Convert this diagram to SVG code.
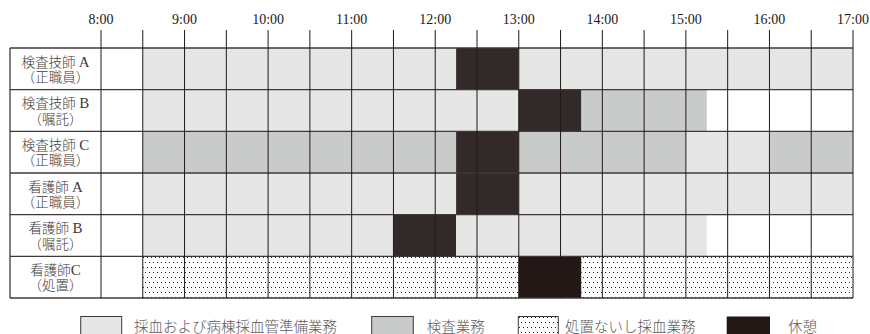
<svg xmlns="http://www.w3.org/2000/svg" width="870" height="334" viewBox="0 0 870 334">
<style>
.lt{fill:#e6e6e6}
.md{fill:#c9caca}
.bk{fill:#322a28}
.bk2{fill:#231815}
.dt{fill:url(#dots)}
.tm{font-family:"Liberation Serif","Noto Sans CJK JP",serif;font-size:14px;fill:#231815;text-anchor:middle}
.lb{font-family:"Liberation Serif","Noto Sans CJK JP",serif;font-size:13.5px;font-weight:300;fill:#3e3a39;text-anchor:middle}
.lb tspan{font-size:15px;font-weight:400}
.lg{font-family:"Liberation Serif","Noto Sans CJK JP",serif;font-size:14.5px;font-weight:300;fill:#595757}
.vl{stroke:#231815;stroke-width:1}
.hl{stroke:#3e3a39;stroke-width:1.3}
.box{stroke:#3e3a39;stroke-width:1}
</style>
<defs>
<pattern id="dots" patternUnits="userSpaceOnUse" width="8" height="10">
<rect width="8" height="10" fill="#ffffff"/>
<rect x="1" y="2" width="1" height="1" fill="#222"/>
<rect x="5" y="2" width="1" height="1" fill="#222"/>
<rect x="3" y="7" width="1" height="1" fill="#222"/>
<rect x="7" y="7" width="1" height="1" fill="#222"/>
</pattern>
</defs>
<rect width="870" height="334" fill="#ffffff"/>

<g id="times">
<text class="tm" x="101" y="24">8:00</text>
<text class="tm" x="184.56" y="24">9:00</text>
<text class="tm" x="268.11" y="24">10:00</text>
<text class="tm" x="351.67" y="24">11:00</text>
<text class="tm" x="435.22" y="24">12:00</text>
<text class="tm" x="518.78" y="24">13:00</text>
<text class="tm" x="602.33" y="24">14:00</text>
<text class="tm" x="685.89" y="24">15:00</text>
<text class="tm" x="769.44" y="24">16:00</text>
<text class="tm" x="853" y="24">17:00</text>
</g>

<g id="row1">
<rect class="lt" x="142.78" y="48" width="313.33" height="41.7"/>
<rect class="bk" x="456.11" y="48" width="62.67" height="41.7"/>
<rect class="lt" x="518.78" y="48" width="334.22" height="41.7"/>
<text class="lb" x="55.5" y="66.5">検査技師 <tspan>A</tspan></text>
<text class="lb" x="55.5" y="82">（正職員）</text>
</g>

<g id="row2">
<rect class="lt" x="142.78" y="89.7" width="376" height="41.6"/>
<rect class="bk" x="518.78" y="89.7" width="62.66" height="41.6"/>
<rect class="md" x="581.44" y="89.7" width="125.34" height="41.6"/>
<text class="lb" x="55.5" y="108.2">検査技師 <tspan>B</tspan></text>
<text class="lb" x="55.5" y="123.7">（嘱託）</text>
</g>

<g id="row3">
<rect class="md" x="142.78" y="131.3" width="313.33" height="41.7"/>
<rect class="bk" x="456.11" y="131.3" width="62.67" height="41.7"/>
<rect class="md" x="518.78" y="131.3" width="167.11" height="41.7"/>
<rect class="lt" x="685.89" y="131.3" width="83.55" height="41.7"/>
<rect class="md" x="769.44" y="131.3" width="83.56" height="41.7"/>
<text class="lb" x="55.5" y="149.8">検査技師 <tspan>C</tspan></text>
<text class="lb" x="55.5" y="165.3">（正職員）</text>
</g>

<g id="row4">
<rect class="lt" x="142.78" y="173" width="313.33" height="41.7"/>
<rect class="bk" x="456.11" y="173" width="62.67" height="41.7"/>
<rect class="lt" x="518.78" y="173" width="334.22" height="41.7"/>
<text class="lb" x="55.5" y="191.5">看護師 <tspan>A</tspan></text>
<text class="lb" x="55.5" y="207">（正職員）</text>
</g>

<g id="row5">
<rect class="lt" x="142.78" y="214.7" width="250.66" height="41.6"/>
<rect class="bk" x="393.44" y="214.7" width="62.67" height="41.6"/>
<rect class="lt" x="456.11" y="214.7" width="250.67" height="41.6"/>
<text class="lb" x="55.5" y="233.2">看護師 <tspan>B</tspan></text>
<text class="lb" x="55.5" y="248.7">（嘱託）</text>
</g>

<g id="row6">
<rect class="dt" x="142.78" y="256.3" width="376" height="41.7"/>
<rect class="bk2" x="518.78" y="256.3" width="62.66" height="41.7"/>
<rect class="dt" x="581.44" y="256.3" width="271.56" height="41.7"/>
<text class="lb" x="55.5" y="274.8">看護師<tspan>C</tspan></text>
<text class="lb" x="55.5" y="290.3">（処置）</text>
</g>

<g id="grid" fill="none">
<line class="hl" x1="10" y1="48" x2="853" y2="48"/>
<line class="hl" x1="10" y1="89.7" x2="853" y2="89.7"/>
<line class="hl" x1="10" y1="131.3" x2="853" y2="131.3"/>
<line class="hl" x1="10" y1="173" x2="853" y2="173"/>
<line class="hl" x1="10" y1="214.7" x2="853" y2="214.7"/>
<line class="hl" x1="10" y1="256.3" x2="853" y2="256.3"/>
<line class="hl" x1="10" y1="298" x2="853" y2="298"/>
<line class="hl" x1="10" y1="48" x2="10" y2="298"/>
<line class="vl" x1="101" y1="30" x2="101" y2="298"/>
<line class="vl" x1="142.78" y1="30" x2="142.78" y2="298"/>
<line class="vl" x1="184.56" y1="30" x2="184.56" y2="298"/>
<line class="vl" x1="226.33" y1="30" x2="226.33" y2="298"/>
<line class="vl" x1="268.11" y1="30" x2="268.11" y2="298"/>
<line class="vl" x1="309.89" y1="30" x2="309.89" y2="298"/>
<line class="vl" x1="351.67" y1="30" x2="351.67" y2="298"/>
<line class="vl" x1="393.44" y1="30" x2="393.44" y2="298"/>
<line class="vl" x1="435.22" y1="30" x2="435.22" y2="298"/>
<line class="vl" x1="477" y1="30" x2="477" y2="298"/>
<line class="vl" x1="518.78" y1="30" x2="518.78" y2="298"/>
<line class="vl" x1="560.56" y1="30" x2="560.56" y2="298"/>
<line class="vl" x1="602.33" y1="30" x2="602.33" y2="298"/>
<line class="vl" x1="644.11" y1="30" x2="644.11" y2="298"/>
<line class="vl" x1="685.89" y1="30" x2="685.89" y2="298"/>
<line class="vl" x1="727.67" y1="30" x2="727.67" y2="298"/>
<line class="vl" x1="769.44" y1="30" x2="769.44" y2="298"/>
<line class="vl" x1="811.22" y1="30" x2="811.22" y2="298"/>
<line class="vl" x1="853" y1="30" x2="853" y2="298"/>
</g>

<g id="legend">
<rect class="lt box" x="80.7" y="316.5" width="41" height="20"/>
<text class="lg" x="134" y="331.5">採血および病棟採血管準備業務</text>
<rect class="md box" x="371.7" y="316.5" width="41.6" height="20"/>
<text class="lg" x="426.7" y="331.5">検査業務</text>
<rect class="dt box" x="518.3" y="316.5" width="40" height="20"/>
<text class="lg" x="565" y="331.5">処置ないし採血業務</text>
<rect class="bk2" x="726.7" y="316.5" width="43.3" height="20"/>
<text class="lg" x="788" y="331.5">休憩</text>
</g>
</svg>
